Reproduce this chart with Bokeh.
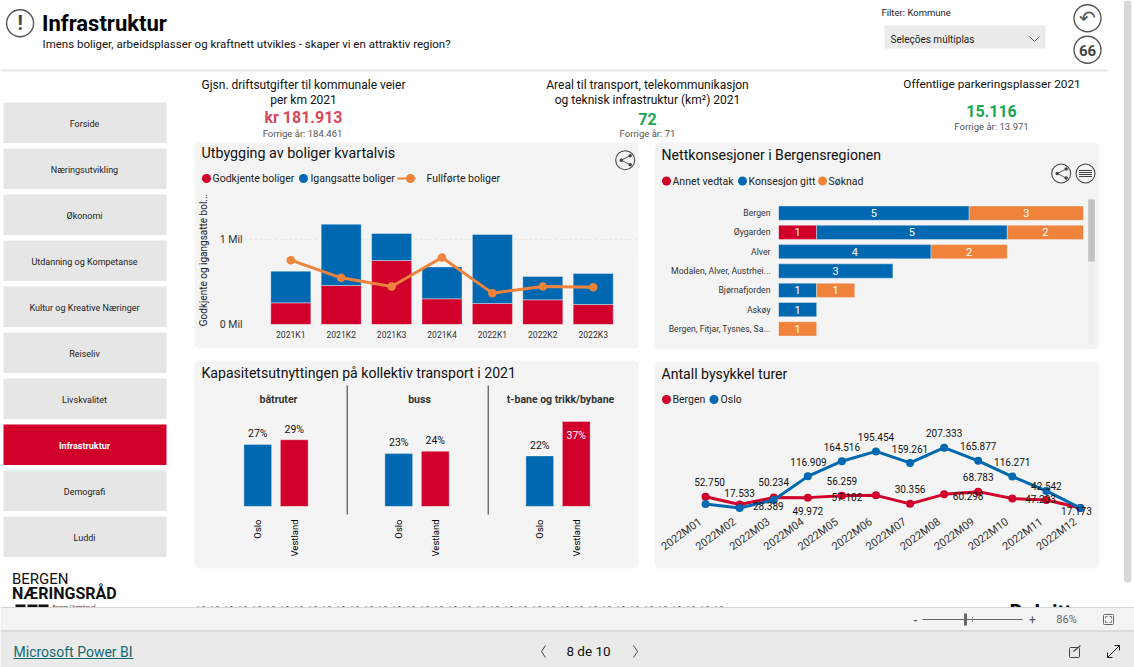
from math import pi
from bokeh.plotting import figure
from bokeh.layouts import column
from bokeh.models import Range1d, FactorRange, FixedTicker, ColumnDataSource
from bokeh.core.properties import value
from bokeh.embed import file_html
from bokeh.resources import INLINE

RED = "#d0002b"
BLUE = "#0068b0"
ORANGE = "#ef833c"
CARD = "#f4f4f4"
FONT = "Roboto"

# ---- data ----
nav_items = ["Forside", "Næringsutvikling", "Økonomi", "Utdanning og Kompetanse",
             "Kultur og Kreative Næringer", "Reiseliv", "Livskvalitet", "Infrastruktur",
             "Demografi", "Luddi"]
nav_active = "Infrastruktur"

quarters = ["2021K1", "2021K2", "2021K3", "2021K4", "2022K1", "2022K2", "2022K3"]
godkjente = [255000, 459000, 753000, 302000, 247000, 290000, 235000]
igangsatte = [372000, 721000, 318000, 376000, 812000, 275000, 365000]
fullforte = [757000, 549000, 447000, 788000, 369000, 447000, 439000]

kommuner = ["Bergen", "Øygarden", "Alver", "Modalen, Alver, Austrhei...", "Bjørnafjorden",
            "Askøy", "Bergen, Fitjar, Tysnes, Sa..."]
annet_vedtak = [0, 1, 0, 0, 0, 0, 0]
konsesjon_gitt = [5, 5, 4, 3, 1, 1, 0]
soknad = [3, 2, 2, 0, 1, 0, 1]

regions = ["Oslo", "Vestland"]
transport_modes = ["båtruter", "buss", "t-bane og trikk/bybane"]
kapasitet = {"båtruter": [27, 29], "buss": [23, 24], "t-bane og trikk/bybane": [22, 37]}

months = ["2022M%02d" % m for m in range(1, 13)]
bergen = [52750, 28389, 50234, 49972, 56259, 57102, 30356, 60298, 68783, 47233, 42542, 17500]
oslo = [30000, 17533, 42600, 116909, 164516, 195454, 159261, 207333, 165877, 116271, 71000, 17173]
# data labels as Power BI placed them: (series, month index, text, dx, dy)
bike_labels = [
    ("b", 0, "52.750", 4, -14.7), ("o", 1, "17.533", 0, -15.3), ("b", 2, "50.234", 0, -15.7),
    ("b", 1, "28.389", 28.7, 2), ("o", 3, "116.909", 0.7, -14.7), ("b", 3, "49.972", 0, 13.3),
    ("o", 4, "164.516", 0, -14.3), ("b", 4, "56.259", 0, -14.7), ("b", 5, "57.102", -29, 1.3),
    ("o", 5, "195.454", 0, -14.3), ("o", 6, "159.261", 0, -13.7), ("b", 6, "30.356", 0, -15),
    ("o", 7, "207.333", 0, -15), ("o", 8, "165.877", 0, -14.7), ("b", 8, "68.783", 0, -14.3),
    ("b", 7, "60.298", 24, 1.3), ("o", 9, "116.271", 0, -15), ("b", 9, "47.233", 28.3, 1),
    ("b", 10, "42.542", 0, -14), ("o", 11, "17.173", -4, 3),
]

# ---- page chrome ----
bg = figure(width=1134, height=667, x_range=Range1d(0, 1134), y_range=Range1d(667, 0),
            x_axis_type=None, y_axis_type=None, toolbar_location=None, output_backend="svg",
            min_border=0, outline_line_color=None, background_fill_color="white", frame_align=False,
            border_fill_color="white", styles={"position": "absolute", "left": "0px", "top": "0px"})
bg.grid.visible = False


def t(x, y, s, size=10, color="#222222", align="left", bold=False, font=FONT, angle=0):
    bg.text([x], [y], text=[s], text_font=value(font), text_font_size=f"{size}px", text_color=color,
            text_align=align, text_baseline="middle", angle=angle,
            text_font_style="bold" if bold else "normal")


def box(x0, x1, y0, y1, fill, radius=0, line=None):
    bg.quad(left=[x0], right=[x1], top=[y0], bottom=[y1], fill_color=fill, line_color=line,
            border_radius=radius)


def ring(x, y, r, color="#555555", w=1.2, fill=None):
    bg.circle([x], [y], radius=r, fill_color=fill, line_color=color, line_width=w)


def seg(xs, ys, color="#444444", w=1.0, dash="solid"):
    bg.line(xs, ys, line_color=color, line_width=w, line_dash=dash)


def dot(x, y, color, size=9):
    bg.scatter([x], [y], size=size, fill_color=color, line_color=None)


def share_icon(cx, cy, r=9.5):
    ring(cx, cy, r, "#444444", 1.1)
    seg([cx + 5, cx - 4, cx + 5], [cy - 4.5, cy, cy + 4.5], "#444444", 0.9)
    for dx, dy in [(5, -4.5), (-4, 0), (5, 4.5)]:
        dot(cx + dx, cy + dy, "#444444", 3.5)


# header
box(0, 1107, 69, 71, "#e8e8e8")
ring(19.6, 22.7, 13.5, "#555555", 1.4)
t(19.6, 22.5, "!", 20, "#444444", "center", True)
t(41.5, 23, "Infrastruktur", 22, "#000000", bold=True)
t(42, 43, "Imens boliger, arbeidsplasser og kraftnett utvikles - skaper vi en attraktiv region?", 11.5, "#111111")
t(881, 11.7, "Filter: Kommune", 9.5, "#222222")
box(884, 1045, 25, 48, "#ebebeb")
t(890, 38.5, "Seleções múltiplas", 10, "#222222")
seg([1029, 1034, 1039], [36, 41, 36], "#666666", 1)
ring(1087, 17.7, 13.5, "#555555", 1.4)
ring(1087, 49.3, 13.5, "#555555", 1.4)
t(1087, 17.5, "↶", 20, "#555555", "center", font="DejaVu Sans")
t(1087, 49.5, "66", 15, "#444444", "center", True)
box(1123.5, 1131, 0, 582, "#d8d8d8", 3)

# nav
for i, name in enumerate(nav_items):
    top = 102 + i * 46
    act = name == nav_active
    box(3, 166, top, top + 40.5, RED if act else "#e6e6e6")
    t(84, top + 21, name, 9, "#ffffff" if act else "#222222", "center", act)

# KPIs
t(303, 84, "Gjsn. driftsutgifter til kommunale veier", 12, "#111111", "center")
t(303, 99, "per km 2021", 12, "#111111", "center")
t(303, 117, "kr 181.913", 16, "#d9475b", "center", True)
t(302, 133, "Forrige år: 184.461", 9.5, "#555555", "center")
t(647, 84, "Areal til transport, telekommunikasjon", 12, "#111111", "center")
t(647, 99, "og teknisk infrastruktur (km²) 2021", 12, "#111111", "center")
t(647, 118, "72", 16, "#1aa650", "center", True)
t(647, 133, "Forrige år: 71", 9.5, "#555555", "center")
t(991.5, 83, "Offentlige parkeringsplasser 2021", 11.8, "#111111", "center")
t(991, 110, "15.116", 16, "#1aa650", "center", True)
t(991, 126, "Forrige år: 13.971", 9.5, "#555555", "center")

# cards
box(194, 638, 142, 348, CARD, 5)
box(654, 1099, 142, 349, CARD, 5)
box(194, 638, 360, 568, CARD, 5)
box(654, 1099, 361, 568, CARD, 5)

t(201, 152, "Utbygging av boliger kvartalvis", 14.3, "#111111")
t(661, 154, "Nettkonsesjoner i Bergensregionen", 14.1, "#111111")
t(201, 372, "Kapasitetsutnyttingen på kollektiv transport i 2021", 14.1, "#111111")
t(661, 373, "Antall bysykkel turer", 14.1, "#111111")

# legends
dot(206, 178, RED); t(212, 178, "Godkjente boliger", 10.5)
dot(303, 178, BLUE); t(310, 178, "Igangsatte boliger", 10.5)
seg([397, 415], [178, 178], ORANGE, 2); dot(410, 178, ORANGE); t(426, 178, "Fullførte boliger", 10.5)
dot(666, 180.5, RED); t(672, 180.5, "Annet vedtak", 10.5)
dot(742, 180.5, BLUE); t(748, 180.5, "Konsesjon gitt", 10.5)
dot(822, 180.5, ORANGE); t(828, 180.5, "Søknad", 10.5)
dot(666, 399, RED); t(672, 399, "Bergen", 10.5)
dot(713.5, 399, BLUE); t(720, 399, "Oslo", 10.5)

# card icons
share_icon(624.7, 159.7)
share_icon(1060.7, 173)
ring(1085, 173, 9.5, "#444444", 1.1)
for dy in (-3, -1, 1, 3):
    seg([1078.5, 1091.5], [173 + dy, 173 + dy], "#444444", 1)

# scrollbar of the concession list
box(1087.7, 1094.3, 199, 344, "#efefef")
box(1087.7, 1094.3, 199, 261, "#c2c2c2")

# small multiple headings and dividers
seg([346.7, 346.7], [385, 514], "#333333", 1)
seg([487.7, 487.7], [385, 514], "#333333", 1)
for cx, name in zip((278, 419, 560), transport_modes):
    t(cx, 399, name, 10.5, "#333333", "center", True)

# logos (cut off by the Power BI bar)
t(11.5, 578, "BERGEN", 15, "#111111")
t(11.5, 592.5, "NÆRINGSRÅD", 16, "#111111", bold=True)
for x0 in (15, 27, 38):
    box(x0, x0 + 10, 604, 609, "#111111")
t(52, 606, "Bergen Chamber of", 5, "#333333")
t(1009, 611.5, "Deloitte", 21, "#000000", bold=True)
seg([197, 727], [606, 606], "#666666", 1, "1 4 2 7")

# Power BI bars
box(0, 1134, 607, 630, "#f3f3f3")
seg([0, 1134], [607, 607], "#d4d4d4", 1)
box(0, 1134, 630, 667, "#eaeaea")
seg([0, 1134], [630.5, 630.5], "#c8c8c8", 1.2)
t(915, 619, "-", 11, "#555555", "center", True)
seg([922, 1022], [619, 619], "#666666", 1)
box(963.5, 966.5, 613, 625, "#666666")
seg([972, 972], [616.5, 621.5], "#888888", 0.8)
t(1032, 619, "+", 12, "#555555", "center")
t(1066, 619, "86%", 11, "#666666", "center")
box(1103, 1113, 614, 624, None, 1, "#666666")
seg([1105, 1105, 1107], [618, 616, 616], "#666666", 0.8)
seg([1109, 1111, 1111], [616, 616, 618], "#666666", 0.8)
seg([1105, 1105, 1107], [620, 622, 622], "#666666", 0.8)
seg([1109, 1111, 1111], [622, 622, 620], "#666666", 0.8)
t(13, 651, "Microsoft Power BI", 14, "#0f6a70")
seg([13, 133], [658, 658], "#0f6a70", 1)
seg([545, 541, 545], [645, 651, 657], "#444444", 1)
t(588, 650.5, "8 de 10", 13.5, "#111111", "center")
seg([633, 637, 633], [645, 651, 657], "#444444", 1)
box(1069, 1079, 647, 657, None, 1, "#444444")
seg([1073, 1080], [651, 645], "#444444", 1.1)
seg([1107, 1119], [657, 645], "#222222", 1)
seg([1114, 1119, 1119], [645, 645, 650], "#222222", 1)
seg([1107, 1107, 1112], [652, 657, 657], "#222222", 1)


# ---- charts, each laid over its card ----
def chart(box_, frame, x_range, y_range):
    l, tp, r, b = box_
    fl, ft, fr, fb = frame
    f = figure(width=r - l, height=b - tp, x_range=x_range, y_range=y_range, toolbar_location=None,
               output_backend="svg", min_border_left=fl - l, min_border_right=r - fr,
               min_border_top=ft - tp, min_border_bottom=b - fb, outline_line_color=None,
               background_fill_color=None, border_fill_color=None, frame_align=False,
               styles={"position": "absolute", "left": f"{l}px", "top": f"{tp}px"})
    f.xgrid.visible = False
    f.ygrid.visible = False
    return f


def style_axis(ax, size):
    ax.axis_line_color = None
    ax.major_tick_line_color = None
    ax.minor_tick_line_color = None
    ax.major_tick_out = 0
    ax.major_tick_in = 0
    ax.major_label_text_font = FONT
    ax.major_label_text_font_size = f"{size}px"
    ax.major_label_text_color = "#333333"


EDGE = dict(line_color="#ffffff", line_alpha=0.35, line_width=1)

# housing
c1 = chart((194, 186, 638, 348), (245, 195, 638, 324),
           FactorRange(factors=quarters, range_padding=0.399, range_padding_units="absolute"),
           Range1d(0, 1518000))
tops = [a + b for a, b in zip(godkjente, igangsatte)]
c1.vbar(x=quarters, bottom=0, top=godkjente, width=0.794, fill_color=RED, **EDGE)
c1.vbar(x=quarters, bottom=godkjente, top=tops, width=0.794, fill_color=BLUE, **EDGE)
c1.line(quarters, fullforte, line_color=ORANGE, line_width=3)
c1.scatter(quarters, fullforte, size=8.5, fill_color=ORANGE, line_color=None)
style_axis(c1.xaxis[0], 8.6)
c1.xaxis[0].major_label_standoff = 5
style_axis(c1.yaxis[0], 10.5)
c1.yaxis[0].ticker = FixedTicker(ticks=[0, 1000000])
c1.yaxis[0].major_label_overrides = {0: "0 Mil", 1000000: "1 Mil"}
c1.yaxis[0].major_label_standoff = 3
c1.yaxis[0].axis_label = "Godkjente og igangsatte bol..."
c1.yaxis[0].axis_label_text_font = FONT
c1.yaxis[0].axis_label_text_font_style = "normal"
c1.yaxis[0].axis_label_text_font_size = "10px"
c1.yaxis[0].axis_label_text_color = "#222222"
c1.yaxis[0].axis_label_standoff = 8
c1.ygrid.visible = True
c1.ygrid.grid_line_color = "#d8d8d8"
c1.ygrid.grid_line_dash = "1 4"

# concessions
c2 = chart((654, 196, 1086, 345), (778, 203, 1083, 338), Range1d(0, 8),
           FactorRange(factors=list(reversed(kommuner))))
rows = {"y": [], "l": [], "r": [], "c": [], "m": [], "v": []}
for i, k in enumerate(kommuner):
    start = 0
    for vals, col in ((annet_vedtak, RED), (konsesjon_gitt, BLUE), (soknad, ORANGE)):
        v = vals[i]
        if v:
            rows["y"].append(k); rows["l"].append(start); rows["r"].append(start + v)
            rows["c"].append(col); rows["m"].append(start + v / 2); rows["v"].append(str(v))
            start += v
src2 = ColumnDataSource(rows)
c2.hbar(y="y", left="l", right="r", height=0.74, fill_color="c", source=src2, **EDGE)
c2.text(x="m", y="y", text="v", source=src2, text_color="#ffffff", text_align="center",
        text_baseline="middle", text_font=value(FONT), text_font_size="11px")
c2.xaxis.visible = False
style_axis(c2.yaxis[0], 8.7)
c2.yaxis[0].major_label_standoff = 8

# transport
panels = []
for mode, (a, b) in zip(transport_modes, ((239, 312), (380, 453), (521, 594))):
    f = chart((a, 414, b, 560), (a, 414, b, 506), FactorRange(factors=regions), Range1d(0, 40))
    vals = kapasitet[mode]
    inside = [v >= 30 for v in vals]
    f.vbar(x=regions, top=vals, width=0.76, fill_color=[BLUE, RED], **EDGE)
    f.text(regions, vals, text=[f"{v}%" for v in vals], text_align="center", text_baseline="middle",
           text_font=value(FONT), text_font_size="10.5px",
           text_color=["#ffffff" if i else "#111111" for i in inside],
           y_offset=[13.7 if i else -10.7 for i in inside])
    f.yaxis.visible = False
    style_axis(f.xaxis[0], 9.5)
    f.xaxis[0].major_label_orientation = pi / 2
    f.xaxis[0].major_label_standoff = 13
    f.xaxis[0].major_label_text_color = "#000000"
    panels.append(f)

# bikes: lines and data labels share a frame running below the zero line, so that
# labels under the lines are not cut; the month axis has its own strip below them
Y_PER_PX = 340000 / 108
c4 = chart((654, 405, 1099, 545), (688, 405, 1097, 545), FactorRange(factors=months),
           Range1d(-32 * Y_PER_PX, 340000))
c4.line(months, bergen, line_color=RED, line_width=3)
c4.scatter(months, bergen, size=8, fill_color=RED, line_color=None)
c4.line(months, oslo, line_color=BLUE, line_width=3)
c4.scatter(months, oslo, size=8, fill_color=BLUE, line_color=None)
c4.text([months[i] for _, i, _, _, _ in bike_labels],
        [(bergen if s == "b" else oslo)[i] for s, i, _, _, _ in bike_labels],
        text=[lab for _, _, lab, _, _ in bike_labels],
        x_offset=[d for *_, d, _ in bike_labels], y_offset=[d for *_, d in bike_labels],
        text_align="center", text_baseline="middle", text_font=value(FONT),
        text_font_size="10px", text_color="#111111")
c4.xaxis.visible = False
c4.yaxis.visible = False

c4x = chart((654, 505, 1099, 565), (683, 505, 1092, 513), FactorRange(factors=months), Range1d(0, 1))
c4x.yaxis.visible = False
style_axis(c4x.xaxis[0], 11)
c4x.xaxis[0].major_label_orientation = pi / 5
c4x.xaxis[0].major_label_standoff = 7

page = column(bg, c1, c2, *panels, c4x, c4, width=1134, height=667)
open("out.html", "w").write(file_html(page, INLINE))
